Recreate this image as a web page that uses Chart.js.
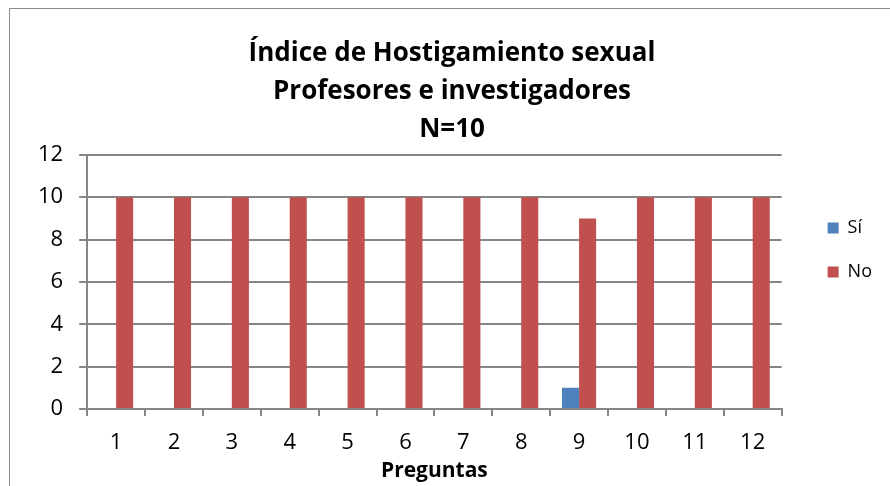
<!DOCTYPE html>
<html>
<head>
<meta charset="utf-8">
<script src="https://cdn.jsdelivr.net/npm/chart.js@4/dist/chart.umd.min.js"></script>
<style>
  html, body { margin: 0; padding: 0; background: #fff; }
  .frame { position: absolute; left: 9px; top: 8px; width: 900px; height: 500px; border: 1.5px solid #8a8a8a; }
  .wrap { position: absolute; left: 0; top: 0; width: 890px; height: 486px; }
</style>
</head>
<body>
<div class="frame"></div>
<div class="wrap"><canvas id="chart" width="890" height="486"></canvas></div>
<script>
/* Índice de Hostigamiento sexual - profesores e investigadores */
const categories = ["1","2","3","4","5","6","7","8","9","10","11","12"];
const si = [0,0,0,0,0,0,0,0,1,0,0,0];
const no = [10,10,10,10,10,10,10,10,9,10,10,10];
const titleLines = ["Índice de Hostigamiento sexual", "Profesores e investigadores", "N=10"];

const FONT = "'Open Sans', 'Liberation Sans', sans-serif";
const grey = "#868686";

new Chart(document.getElementById("chart"), {
  type: "bar",
  data: {
    labels: categories,
    datasets: [
      { label: "Sí", data: si, backgroundColor: "#4f81bd" },
      { label: "No", data: no, backgroundColor: "#c0504d" },
    ]
  },
  options: {
    responsive: false, animation: false,
    categoryPercentage: 0.59, barPercentage: 1,
    layout: { padding: { left: 22, right: 8, top: 14, bottom: 0 } },
    plugins: {
      title: { display: true, text: titleLines, color: "#000", padding: { top: 21, bottom: 6 },
        font: { family: FONT, size: 26, weight: "bold", lineHeight: 1.46 } },
      legend: { position: "right", align: "center",
        labels: { boxWidth: 11, boxHeight: 11, padding: 26, color: "#000", font: { family: FONT, size: 18 } } },
      tooltip: { enabled: false }
    },
    scales: {
      x: {
        grid: { display: true, drawOnChartArea: false, color: grey, lineWidth: 2, tickLength: 7, offset: true },
        border: { color: grey, width: 2 },
        ticks: { color: "#000", font: { family: FONT, size: 22 }, padding: 14 },
        title: { display: true, text: "Preguntas", color: "#000", padding: { top: 0, bottom: 2 },
          font: { family: FONT, size: 21, weight: "bold" } },
        afterFit: s => { s.height = 77; }
      },
      y: {
        min: 0, max: 12,
        ticks: { stepSize: 2, color: "#000", font: { family: FONT, size: 22 }, padding: 16 },
        grid: { color: grey, lineWidth: 2, tickLength: 8 },
        border: { color: grey, width: 2 }
      },
      // empty spacer between plot and legend
      gap: {
        type: "linear", position: "right", display: true,
        grid: { display: false }, border: { display: false }, ticks: { display: false },
        afterFit: s => { s.width = 20; }
      }
    }
  }
});
</script>
</body>
</html>
